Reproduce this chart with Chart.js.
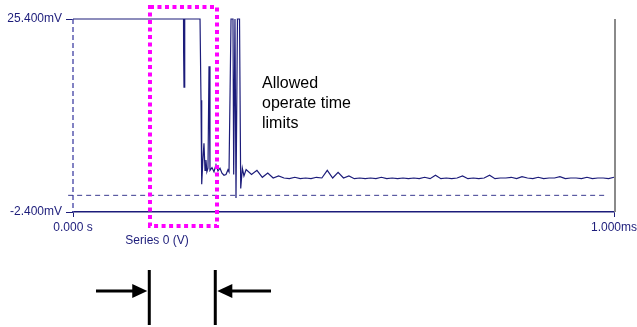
<!DOCTYPE html>
<html>
<head>
<meta charset="utf-8">
<script src="https://cdn.jsdelivr.net/npm/chart.js@4.4.1/dist/chart.umd.min.js"></script>
<style>
  html, body { margin: 0; padding: 0; background: #fff; }
  canvas { display: block; }
</style>
</head>
<body>
<canvas id="grafica" width="637" height="327"></canvas>
<script>
// DATA (time in ms, signal in mV)
const tiempos = [
  0, 0.2043, 0.2045, 0.2052, 0.2060, 0.2070, 0.2348, 0.2366, 0.2379, 0.2400,
  0.2421, 0.2440, 0.2458, 0.2475, 0.2495, 0.2514, 0.2532, 0.2569, 0.2606, 0.2643,
  0.2680, 0.2717, 0.2754, 0.2791, 0.2828, 0.2865, 0.2884, 0.2921, 0.2957, 0.2970,
  0.2994, 0.3013, 0.3040, 0.3078, 0.3100, 0.3130, 0.3160,
  0.32, 0.33, 0.34, 0.35, 0.36, 0.37, 0.38, 0.39, 0.40, 0.41,
  0.42, 0.43, 0.44, 0.45, 0.46, 0.47, 0.48, 0.49, 0.50, 0.51,
  0.52, 0.53, 0.54, 0.55, 0.56, 0.57, 0.58, 0.59, 0.60, 0.61,
  0.62, 0.63, 0.64, 0.65, 0.66, 0.67, 0.68, 0.69, 0.70, 0.71,
  0.72, 0.73, 0.74, 0.75, 0.76, 0.77, 0.78, 0.79, 0.80, 0.81,
  0.82, 0.83, 0.84, 0.85, 0.86, 0.87, 0.88, 0.89, 0.90, 0.91,
  0.92, 0.93, 0.94, 0.95, 0.96, 0.97, 0.98, 0.99, 1.00
];
const voltios = [
  25.4, 25.4, 20.5, 15.6, 20.5, 25.4, 25.4, 13.7, 1.6, 5.0,
  7.5, 3.6, 5.1, 3.4, 3.9, 18.6, 3.6, 4.0, 3.4, 4.4,
  3.5, 3.9, 3.2, 2.9, 3.0, 3.7, 3.4, 25.4, 25.4, 3.0,
  25.4, -0.4, 25.4, 25.4, 1.0, 3.9, 2.8,
  3.7, 3.0, 3.6, 2.6, 3.2, 2.5, 2.8, 2.5, 2.4, 2.6,
  2.4, 2.5, 2.4, 2.6, 2.5, 3.6, 2.5, 3.3, 2.5, 2.8,
  2.4, 2.5, 2.4, 2.5, 2.4, 2.6, 2.4, 2.5, 2.4, 2.5,
  2.4, 2.5, 2.4, 2.6, 2.4, 2.9, 2.4, 2.5, 2.4, 2.5,
  2.8, 2.4, 2.5, 2.4, 2.5, 2.9, 2.4, 2.5, 2.5, 2.6,
  2.4, 2.7, 2.5, 2.4, 2.6, 2.4, 2.5, 2.5, 2.7, 2.4,
  2.5, 2.5, 2.4, 2.6, 2.4, 2.5, 2.5, 2.4, 2.6
];

const xTicks = [0, 1];
const xTickLabels = ["0.000 s", "1.000ms"];
const yTicks = [-2.4, 25.4];
const yTickLabels = ["-2.400mV", "25.400mV"];

const ceroLinea = [-0.009, 0.985];      // dashed zero reference
const ventanaT = [0.1423, 0.2662];      // magenta window (time)
const ventanaV = [27.13, -4.42];        // magenta window (mV)
const limitesT = [0.141, 0.263];        // arrow bars
const barraV = [-10.75, -18.68];
const flechaV = -13.78;
const colaT = [0.0425, 0.366];

const nota = ["Allowed", "operate time", "limits"];
const serieNombre = "Series 0 (V)";

const AZUL = "#1c1c7a";
const FUENTE = "Liberation Sans, Arial, sans-serif";

//////////////

const puntos = tiempos.map((t, i) => ({ x: t, y: voltios[i] }));

// dashed y axis, drawn under the data
const ejeY = {
  id: "ejeY",
  beforeDatasetsDraw(chart) {
    const ctx = chart.ctx, area = chart.chartArea;
    ctx.save();
    ctx.strokeStyle = "#5a5ab0";
    ctx.lineWidth = 1.5;
    ctx.setLineDash([5, 3]);
    ctx.beginPath();
    ctx.moveTo(area.left, area.top);
    ctx.lineTo(area.left, area.bottom);
    ctx.stroke();
    ctx.restore();
  }
};

const extras = {
  id: "extras",
  afterDraw(chart) {
    const ctx = chart.ctx;
    const xs = chart.scales.x, ys = chart.scales.y;
    const area = chart.chartArea;

    // right edge
    ctx.save();
    ctx.strokeStyle = "#8a8a8a";
    ctx.lineWidth = 2;
    ctx.beginPath();
    ctx.moveTo(area.right + 1, area.top);
    ctx.lineTo(area.right + 1, area.bottom);
    ctx.stroke();

    // series name
    ctx.fillStyle = AZUL;
    ctx.font = "12px " + FUENTE;
    ctx.textAlign = "center";
    ctx.textBaseline = "middle";
    ctx.fillText(serieNombre, 157, 241);

    // note text
    ctx.fillStyle = "#000";
    ctx.font = "16px " + FUENTE;
    ctx.textAlign = "left";
    ctx.textBaseline = "top";
    nota.forEach((l, i) => ctx.fillText(l, 262, 76 + i * 20));

    // magenta window
    const x1 = xs.getPixelForValue(ventanaT[0]);
    const x2 = xs.getPixelForValue(ventanaT[1]);
    const y1 = ys.getPixelForValue(ventanaV[0]);
    const y2 = ys.getPixelForValue(ventanaV[1]);
    ctx.strokeStyle = "#ff00ff";
    ctx.lineWidth = 4;
    ctx.setLineDash([4, 3.5]);
    ctx.strokeRect(x1, y1, x2 - x1, y2 - y1);
    ctx.setLineDash([]);

    // arrows
    ctx.strokeStyle = "#000";
    ctx.fillStyle = "#000";
    ctx.lineWidth = 3;
    const ya = ys.getPixelForValue(flechaV);
    limitesT.forEach((t, i) => {
      const xb = xs.getPixelForValue(t);
      ctx.beginPath();
      ctx.moveTo(xb, ys.getPixelForValue(barraV[0]));
      ctx.lineTo(xb, ys.getPixelForValue(barraV[1]));
      ctx.stroke();
      const xc = xs.getPixelForValue(colaT[i]);
      const dir = i === 0 ? 1 : -1;
      const punta = xb - dir * 2;
      ctx.beginPath();
      ctx.moveTo(xc, ya);
      ctx.lineTo(punta - dir * 12, ya);
      ctx.stroke();
      ctx.beginPath();
      ctx.moveTo(punta, ya);
      ctx.lineTo(punta - dir * 15, ya - 7);
      ctx.lineTo(punta - dir * 15, ya + 7);
      ctx.closePath();
      ctx.fill();
    });
    ctx.restore();
  }
};

const micanvas = document.getElementById("grafica").getContext("2d");
const grafico = new Chart(micanvas, {
  type: "line",
  data: {
    datasets: [
      {
        data: puntos,
        borderColor: AZUL,
        borderWidth: 1.2,
        pointRadius: 0,
        tension: 0,
        clip: 4
      },
      {
        data: ceroLinea.map(t => ({ x: t, y: 0 })),
        borderColor: "#3a3a90",
        borderWidth: 1,
        borderDash: [5, 4],
        pointRadius: 0,
        clip: false
      }
    ]
  },
  options: {
    responsive: false,
    animation: false,
    layout: { padding: { left: 0, top: 19, right: 23, bottom: 75 } },
    plugins: { legend: { display: false }, tooltip: { enabled: false } },
    scales: {
      x: {
        type: "linear",
        min: 0,
        max: 1,
        afterBuildTicks: s => { s.ticks = xTicks.map(v => ({ value: v })); },
        afterFit: s => { s.height = 40; s.paddingLeft = 0; s.paddingRight = 0; },
        ticks: {
          autoSkip: false,
          maxRotation: 0,
          padding: 3,
          color: AZUL,
          font: { family: FUENTE, size: 12 },
          callback: (v, i) => xTickLabels[i]
        },
        grid: { drawOnChartArea: false, tickLength: 5, color: AZUL },
        border: { color: AZUL, width: 1.5 }
      },
      y: {
        min: -2.4,
        max: 25.4,
        afterBuildTicks: s => { s.ticks = yTicks.map(v => ({ value: v })); },
        afterFit: s => { s.width = 73; },
        ticks: {
          autoSkip: false,
          padding: 4,
          color: AZUL,
          font: { family: FUENTE, size: 12 },
          callback: (v, i) => yTickLabels[i]
        },
        grid: { drawOnChartArea: false, tickLength: 7, color: AZUL },
        border: { display: false }
      }
    }
  },
  plugins: [ejeY, extras]
});
</script>
</body>
</html>
